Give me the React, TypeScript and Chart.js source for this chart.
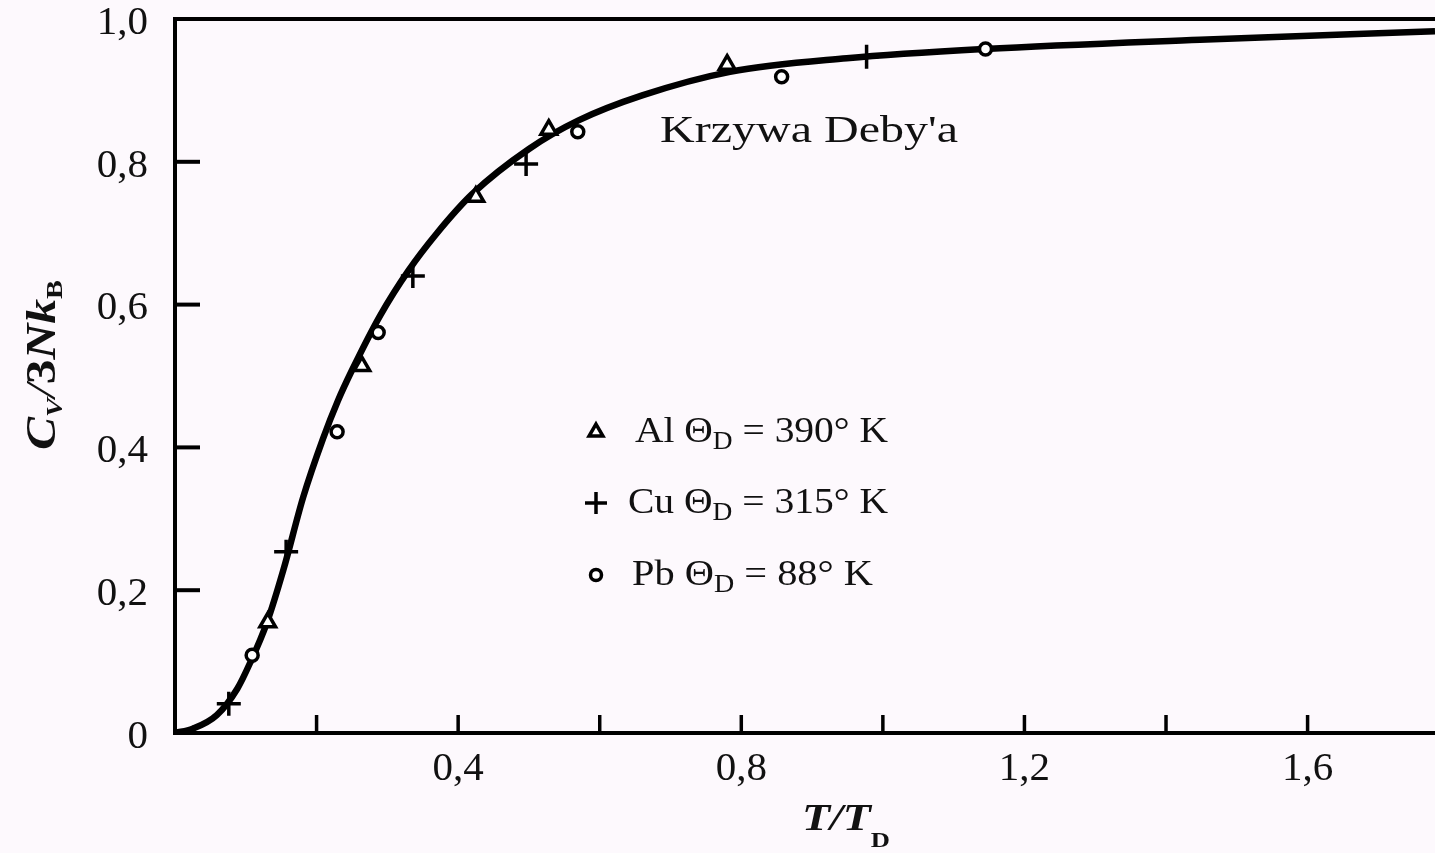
import React, { useEffect, useRef } from 'react';
import { Chart, registerables } from 'chart.js';

Chart.register(...registerables);

// ---- Data ----
const debyeX = [0, 0.025, 0.059, 0.088, 0.106, 0.13, 0.153, 0.181, 0.209, 0.23, 0.25, 0.29, 0.33, 0.37, 0.42, 0.5, 0.57, 0.66, 0.784, 0.949, 1.144, 1.448, 1.78];
const debyeY = [0, 0.006, 0.025, 0.062, 0.098, 0.155, 0.228, 0.33, 0.412, 0.465, 0.508, 0.585, 0.648, 0.7, 0.755, 0.818, 0.858, 0.893, 0.926, 0.945, 0.958, 0.971, 0.983];

const alX = [0.131, 0.264, 0.425, 0.528, 0.78];
const alY = [0.155, 0.514, 0.751, 0.845, 0.936];

const cuX = [0.076, 0.157, 0.336, 0.496, 0.977];
const cuY = [0.041, 0.254, 0.64, 0.797, 0.947];

const pbX = [0.109, 0.229, 0.287, 0.569, 0.857, 1.145];
const pbY = [0.109, 0.422, 0.561, 0.842, 0.919, 0.958];

const xLabelTicks = [0.4, 0.8, 1.2, 1.6];
const xAllTicks = [0.2, 0.4, 0.6, 0.8, 1.0, 1.2, 1.4, 1.6];
const yTicks = [0, 0.2, 0.4, 0.6, 0.8, 1.0];

const legendElements = ['Al', 'Cu', 'Pb'];
const legendTemps = ['390° K', '315° K', '88° K'];
const legendStyles = ['triangle', 'cross', 'circle'];
const curveLabel = "Krzywa Deby'a";

const X_MAX = 1.78;
const BG = '#fdf9fd';
const SERIF = "'Liberation Serif', 'Times New Roman', serif";

type Seg = { t: string; font: string; dy?: number };

function drawSegs(ctx: CanvasRenderingContext2D, segs: Seg[], x: number, y: number, targetWidth?: number, center?: boolean) {
  let w = 0;
  const widths = segs.map((s) => {
    ctx.font = s.font;
    const m = ctx.measureText(s.t).width;
    w += m;
    return m;
  });
  const sx = targetWidth ? targetWidth / w : 1;
  ctx.save();
  ctx.translate(x, y);
  ctx.scale(sx, 1);
  let cx = center ? -w / 2 : 0;
  ctx.textBaseline = 'alphabetic';
  ctx.textAlign = 'left';
  segs.forEach((s, i) => {
    ctx.font = s.font;
    ctx.fillText(s.t, cx, s.dy || 0);
    cx += widths[i];
  });
  ctx.restore();
}

function drawMarker(ctx: CanvasRenderingContext2D, style: string, x: number, y: number) {
  ctx.save();
  ctx.strokeStyle = '#000';
  ctx.fillStyle = '#fff';
  ctx.lineWidth = 3.5;
  ctx.beginPath();
  if (style === 'triangle') {
    const r = 8;
    for (let k = 0; k < 3; k++) {
      const a = (k * 2 * Math.PI) / 3;
      const px = x + Math.sin(a) * r;
      const py = y - Math.cos(a) * r;
      if (k === 0) ctx.moveTo(px, py);
      else ctx.lineTo(px, py);
    }
    ctx.closePath();
    ctx.fill();
    ctx.stroke();
  } else if (style === 'cross') {
    const r = 11;
    ctx.moveTo(x - r, y);
    ctx.lineTo(x + r, y);
    ctx.moveTo(x, y - r);
    ctx.lineTo(x, y + r);
    ctx.stroke();
  } else {
    ctx.arc(x, y, 5.5, 0, Math.PI * 2);
    ctx.fill();
    ctx.stroke();
  }
  ctx.restore();
}

const decorPlugin = {
  id: 'decor',
  beforeDraw(chart: any) {
    const ctx = chart.ctx as CanvasRenderingContext2D;
    ctx.save();
    ctx.fillStyle = BG;
    ctx.fillRect(0, 0, chart.width, chart.height);
    ctx.restore();
  },
  afterDraw(chart: any) {
    const ctx = chart.ctx as CanvasRenderingContext2D;
    const { left, right, top, bottom } = chart.chartArea;
    const xs = chart.scales.x;
    const ys = chart.scales.y;
    ctx.save();
    ctx.strokeStyle = '#000';
    // top frame line
    ctx.lineWidth = 4;
    ctx.beginPath();
    ctx.moveTo(left - 2, top);
    ctx.lineTo(right, top);
    ctx.stroke();
    // inward ticks on x axis
    ctx.lineWidth = 3.5;
    xAllTicks.forEach((v) => {
      const px = xs.getPixelForValue(v);
      ctx.beginPath();
      ctx.moveTo(px, bottom);
      ctx.lineTo(px, bottom - 18);
      ctx.stroke();
    });
    // inward ticks on y axis
    ctx.lineWidth = 4;
    yTicks.forEach((v) => {
      if (v === 0 || v === 1) return;
      const py = ys.getPixelForValue(v);
      ctx.beginPath();
      ctx.moveTo(left, py);
      ctx.lineTo(left + 25, py);
      ctx.stroke();
    });
    ctx.restore();

    ctx.save();
    ctx.fillStyle = '#111';
    // curve annotation
    drawSegs(ctx, [{ t: curveLabel, font: `37px ${SERIF}` }], 660, 142, 298);

    // legend
    const rowBase = [442, 513, 585];
    const rowStart = [635, 628, 632];
    const rowEnd = [888, 888, 873];
    legendElements.forEach((el, i) => {
      drawMarker(ctx, legendStyles[i], 596, rowBase[i] - 10);
      drawSegs(
        ctx,
        [
          { t: `${el} Θ`, font: `36px ${SERIF}` },
          { t: 'D', font: `25px ${SERIF}`, dy: 7 },
          { t: ` = ${legendTemps[i]}`, font: `36px ${SERIF}` },
        ],
        rowStart[i],
        rowBase[i],
        rowEnd[i] - rowStart[i]
      );
    });

    // x axis title
    drawSegs(
      ctx,
      [
        { t: 'T/T', font: `italic bold 38px ${SERIF}` },
        { t: 'D', font: `bold 22px ${SERIF}`, dy: 17 },
      ],
      802,
      830,
      88
    );

    // y axis title (rotated)
    ctx.save();
    ctx.translate(55, 365);
    ctx.rotate(-Math.PI / 2);
    drawSegs(
      ctx,
      [
        { t: 'C', font: `italic bold 42px ${SERIF}` },
        { t: 'V', font: `italic bold 24px ${SERIF}`, dy: 7 },
        { t: '/', font: `italic 42px ${SERIF}` },
        { t: '3', font: `bold 42px ${SERIF}` },
        { t: 'Nk', font: `italic bold 42px ${SERIF}` },
        { t: 'B', font: `bold 24px ${SERIF}`, dy: 7 },
      ],
      0,
      0,
      170,
      true
    );
    ctx.restore();
    ctx.restore();
  },
};

function fmt(v: number): string {
  const r = Math.round(v * 10) / 10;
  if (r === 0) return '0';
  return r.toFixed(1).replace('.', ',');
}

function zeroPad(s: any) {
  s.paddingTop = 0;
  s.paddingBottom = 0;
  s.paddingLeft = 0;
  s.paddingRight = 0;
}

export default function App() {
  const ref = useRef<HTMLCanvasElement>(null);

  useEffect(() => {
    document.body.style.margin = '0';
    document.body.style.background = BG;
    const markerCommon = {
      showLine: false,
      borderColor: '#000',
      backgroundColor: '#fff',
      pointBorderWidth: 3.5,
      pointBorderColor: '#000',
      pointBackgroundColor: '#fff',
    };
    const chart = new Chart(ref.current!, {
      type: 'scatter',
      data: {
        datasets: [
          {
            label: 'Al',
            data: alX.map((x, i) => ({ x, y: alY[i] })),
            pointStyle: 'triangle',
            pointRadius: 9,
            ...markerCommon,
          },
          {
            label: 'Cu',
            data: cuX.map((x, i) => ({ x, y: cuY[i] })),
            pointStyle: 'cross',
            pointRadius: 12,
            ...markerCommon,
          },
          {
            label: 'Pb',
            data: pbX.map((x, i) => ({ x, y: pbY[i] })),
            pointStyle: 'circle',
            pointRadius: 6,
            ...markerCommon,
          },
          {
            label: 'Debye',
            data: debyeX.map((x, i) => ({ x, y: debyeY[i] })),
            showLine: true,
            borderColor: '#000',
            borderWidth: 6.5,
            pointRadius: 0,
            cubicInterpolationMode: 'monotone',
            fill: false,
          } as any,
        ],
      },
      options: {
        animation: false,
        responsive: false,
        maintainAspectRatio: false,
        layout: { autoPadding: false, padding: { top: 19, left: 0, right: 0, bottom: 0 } },
        plugins: {
          legend: { display: false },
          tooltip: { enabled: false },
        },
        events: [],
        scales: {
          x: {
            type: 'linear',
            min: 0,
            max: X_MAX,
            afterBuildTicks: (s: any) => {
              s.ticks = xAllTicks.map((v) => ({ value: v }));
            },
            afterFit: (s: any) => {
              s.height = 120;
              zeroPad(s);
            },
            grid: { display: false, drawTicks: false },
            border: { display: true, color: '#000', width: 4 },
            ticks: {
              autoSkip: false,
              maxRotation: 0,
              padding: 12,
              color: '#111',
              font: { family: SERIF, size: 41 },
              callback: (v: any) => (xLabelTicks.some((t) => Math.abs(t - v) < 1e-6) ? fmt(v) : ''),
            },
          },
          y: {
            type: 'linear',
            min: 0,
            max: 1,
            afterBuildTicks: (s: any) => {
              s.ticks = yTicks.map((v) => ({ value: v }));
            },
            afterFit: (s: any) => {
              s.width = 175;
              zeroPad(s);
            },
            grid: { display: false, drawTicks: false },
            border: { display: true, color: '#000', width: 4 },
            ticks: {
              autoSkip: false,
              padding: 27,
              labelOffset: 4,
              color: '#111',
              font: { family: SERIF, size: 41 },
              callback: (v: any) => fmt(v),
            },
          },
        },
      },
      plugins: [decorPlugin],
    });
    return () => chart.destroy();
  }, []);

  return <canvas ref={ref} width={1435} height={853} style={{ display: 'block', width: 1435, height: 853 }} />;
}
